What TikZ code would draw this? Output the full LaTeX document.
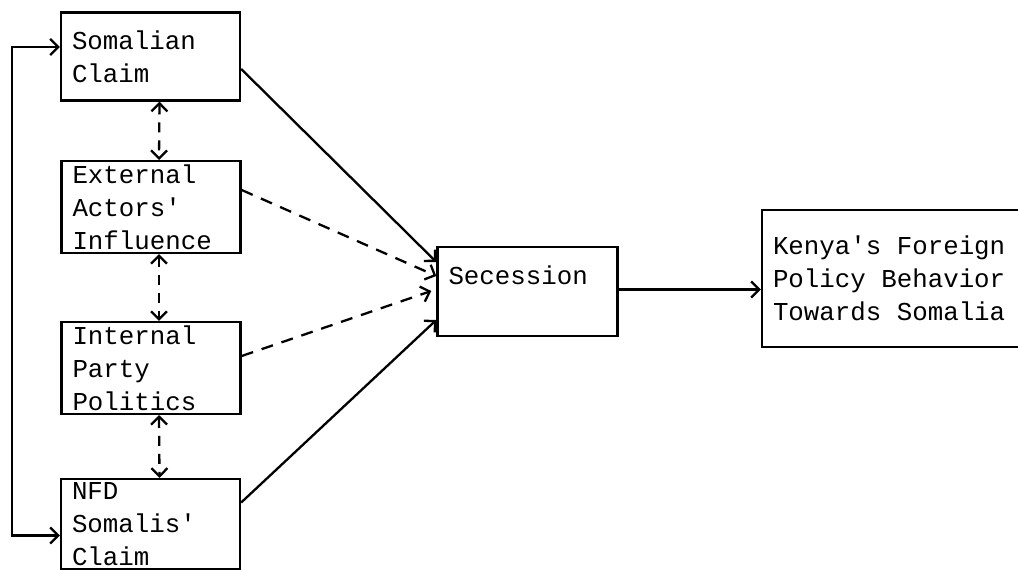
\documentclass[tikz,border=0pt]{standalone}
\usepackage{fontspec}
\setmonofont{Liberation Mono}
\usetikzlibrary{arrows.meta, positioning}
\newcommand{\wsp}{\hspace{0.6em}}

\begin{document}
\begin{tikzpicture}[
  x=1pt, y=-1pt,
  bx/.style={draw, line width=2.4pt, text width=157pt, inner xsep=11pt,
             minimum height=88pt, align=left,
             font=\ttfamily\fontsize{25.8}{33}\selectfont},
  arr/.style={-{Straight Barb[length=8pt, width=16pt]}, line width=2.3pt},
  darr/.style={arr, dash pattern=on 12pt off 9pt},
  bidarr/.style={{Straight Barb[length=8pt, width=16pt]}-{Straight Barb[length=8pt, width=16pt]},
                 line width=2.3pt, dash pattern=on 10pt off 8pt},
]
\useasboundingbox (0,0) rectangle (1018,570);

% ---- Causes ----------------------------------------------------------------
\node[bx] (som) at (150.5, 56.5)  {Somalian\\Claim};
\node[bx] (ext) at (151, 207)     {External\\Actors'\\Influence};
\node[bx] (int) at (151, 368)     {Internal\\Party\\Politics};
\node[bx] (nfd) at (150.5, 524)   {NFD\\Somalis'\\Claim};

% ---- Mutual links ----------------------------------------------------------
\draw[bidarr] ([xshift=9pt]som.south) -- ([xshift=8pt]ext.north);
\draw[bidarr] ([xshift=8pt]ext.south) -- ([xshift=8pt]int.north);
\draw[bidarr] ([xshift=8pt]int.south) -- ([xshift=9pt]nfd.north);
\draw[arr, {Straight Barb[length=8pt, width=16pt]}-{Straight Barb[length=8pt, width=16pt]}]
  ([yshift=9.5pt]som.west) -- ++(-48,0) |- ([yshift=-11.5pt]nfd.west);

% ---- Secession -------------------------------------------------------------
\node[bx, text width=158pt, minimum height=89pt] (sec) at (527.5, 291.5)
  {Secession\\~};
\draw[arr]  ([yshift=-12.5pt]som.east) -- ([yshift=29.5pt]sec.west);
\draw[darr] ([yshift=17pt]ext.east)    -- ([yshift=15.5pt]sec.west);
\draw[darr] ([yshift=12pt]int.east)    -- ([xshift=-5pt, yshift=0.5pt]sec.west);
\draw[arr]  ([yshift=21.5pt]nfd.east)  -- ([yshift=-28.5pt]sec.west);

% ---- Outcome ---------------------------------------------------------------
\node[bx, text width=250pt, minimum height=137pt] (ken) at (898, 278.5)
  {Kenya's\wsp Foreign\\Policy\wsp Behavior\\Towards\wsp Somalia};
\draw[arr] ([yshift=2pt]sec.east) -- ([yshift=2pt]sec.east -| ken.west);

\end{tikzpicture}
\end{document}
